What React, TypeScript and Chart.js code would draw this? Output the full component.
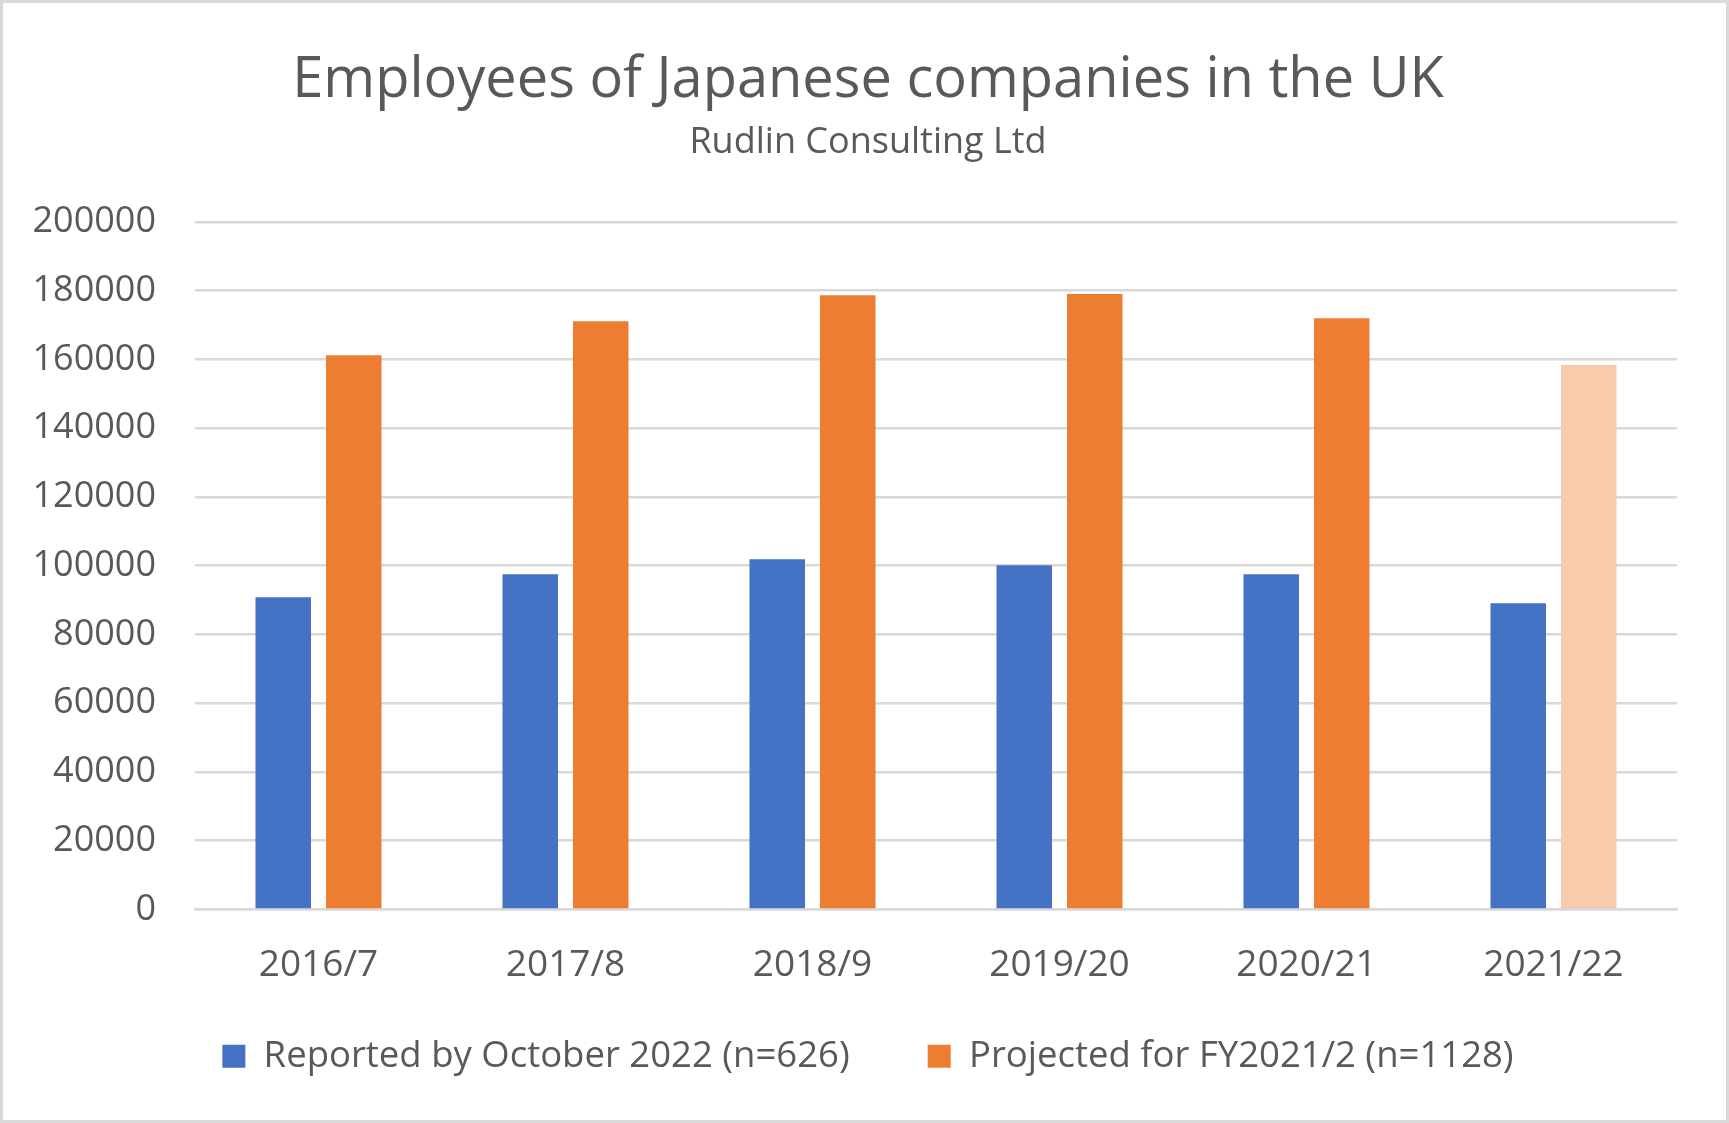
import React, { useEffect, useRef } from 'react';
import { Chart, registerables } from 'chart.js';

Chart.register(...registerables);

const categories = ['2016/7', '2017/8', '2018/9', '2019/20', '2020/21', '2021/22'];
const reported = [90800, 97500, 101900, 100100, 97500, 89100];
const projected = [161200, 171100, 178700, 179000, 172000, 158400];
const projectedIsEstimate = [false, false, false, false, false, true];
const seriesLabels = ['Reported by October 2022 (n=626)', 'Projected for FY2021/2 (n=1128)'];
const titleText = 'Employees of Japanese companies in the UK';
const subtitleText = 'Rudlin Consulting Ltd';
const yMin = 0;
const yMax = 200000;
const yStep = 20000;

const FONT = "'Open Sans', 'Noto Sans', sans-serif";
const TEXT = '#595959';
const GRID = '#D9D9D9';
const BLUE = '#4472C4';
const ORANGE = '#ED7D31';
const LIGHT_ORANGE = '#F8CBAD';

export default function App() {
  const ref = useRef<HTMLCanvasElement | null>(null);

  useEffect(() => {
    document.body.style.margin = '0';
    document.body.style.overflow = 'hidden';
    const canvas = ref.current;
    if (!canvas) return;
    const chart = new Chart(canvas, {
      type: 'bar',
      data: {
        labels: categories,
        datasets: [
          {
            label: seriesLabels[0],
            data: reported,
            backgroundColor: BLUE,
            borderWidth: 0,
            categoryPercentage: 0.571,
            barPercentage: 0.787,
          },
          {
            label: seriesLabels[1],
            data: projected,
            backgroundColor: (ctx: any) =>
              ctx.dataIndex !== undefined && projectedIsEstimate[ctx.dataIndex] ? LIGHT_ORANGE : ORANGE,
            borderWidth: 0,
            categoryPercentage: 0.571,
            barPercentage: 0.787,
          },
        ],
      },
      options: {
        responsive: false,
        animation: false,
        devicePixelRatio: 1,
        layout: { padding: { left: 25, right: 18, top: 0, bottom: 35.5 } },
        plugins: {
          title: {
            display: true,
            text: titleText,
            color: TEXT,
            font: { family: FONT, size: 56, weight: 'normal' },
            padding: { top: 44.1, bottom: 6.7 },
          },
          subtitle: {
            display: true,
            text: subtitleText,
            color: TEXT,
            font: { family: FONT, size: 36, weight: 'normal' },
            padding: { top: 0, bottom: 57.7 },
          },
          legend: {
            position: 'bottom',
            labels: {
              color: TEXT,
              font: { family: FONT, size: 36.5 },
              boxWidth: 23,
              boxHeight: 23,
              padding: 78,
            },
          },
          tooltip: { enabled: false },
        },
        scales: {
          x: {
            grid: { display: false },
            border: { display: true, color: GRID, width: 2.5 },
            ticks: { color: TEXT, font: { family: FONT, size: 37 }, padding: -78.4, mirror: true },
            afterFit: (a: any) => {
              a.height = 50.5;
            },
          },
          y: {
            min: yMin,
            max: yMax,
            ticks: {
              stepSize: yStep,
              color: TEXT,
              font: { family: FONT, size: 36 },
              padding: 39,
              callback: (v: any) => String(v),
            },
            grid: { color: GRID, lineWidth: 2.5, drawTicks: false },
            border: { display: false },
            afterFit: (a: any) => {
              a.width = 167;
            },
          },
          y2: {
            position: 'right',
            grid: { display: false },
            border: { display: false },
            ticks: { display: false },
            afterFit: (a: any) => {
              a.width = 31;
            },
          },
        },
      },
    } as any);
    return () => chart.destroy();
  }, []);

  return (
    <div
      style={{
        width: 1729,
        height: 1123,
        boxSizing: 'border-box',
        border: `3px solid ${GRID}`,
        background: '#FFFFFF',
        overflow: 'hidden',
      }}
    >
      <canvas ref={ref} width={1723} height={1117} style={{ display: 'block' }} />
    </div>
  );
}
